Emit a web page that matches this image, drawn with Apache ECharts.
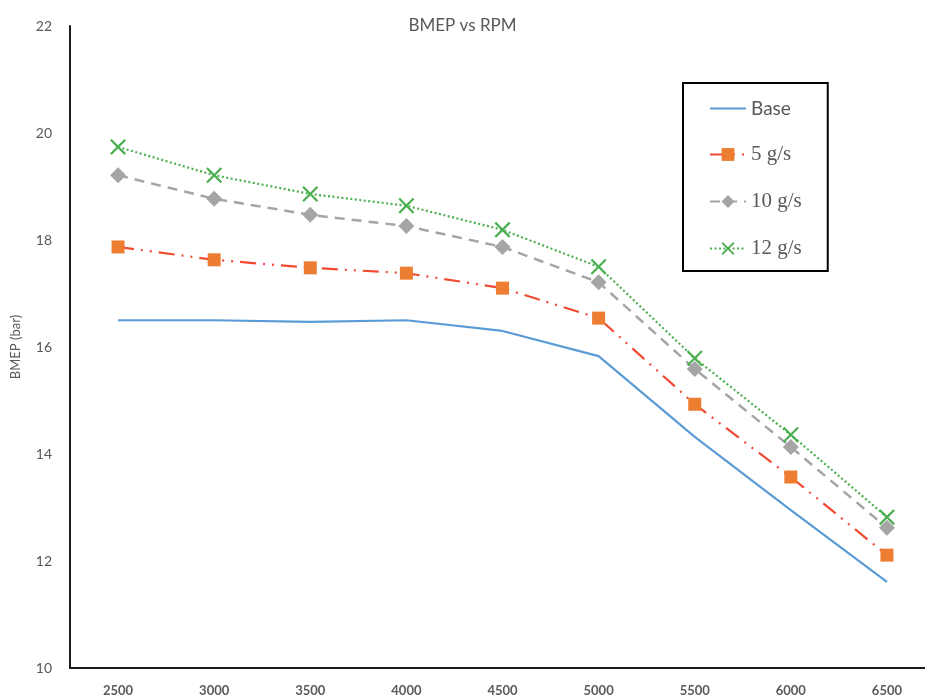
<!DOCTYPE html>
<html lang="en">
<head>
    <meta charset="UTF-8">
    <title>BMEP vs RPM</title>
    <script src="https://cdn.jsdelivr.net/npm/echarts@6/dist/echarts.min.js"></script>
    <style>
        html, body { margin: 0; padding: 0; background: #fff; }
        #linecharts { width: 925px; height: 700px; }
    </style>
</head>
<body>
    <div id="linecharts"></div>
</body>
<script type="text/javascript">
    // 转速 (RPM)
    var rpm = ['2500', '3000', '3500', '4000', '4500', '5000', '5500', '6000', '6500'];
    // BMEP (bar)
    var base = [16.50, 16.50, 16.47, 16.50, 16.30, 15.83, 14.32, 12.95, 11.61];
    var g5 = [17.87, 17.63, 17.48, 17.38, 17.10, 16.54, 14.93, 13.57, 12.11];
    var g10 = [19.21, 18.77, 18.47, 18.26, 17.87, 17.21, 15.59, 14.13, 12.62];
    var g12 = [19.74, 19.21, 18.86, 18.64, 18.19, 17.50, 15.79, 14.36, 12.82];
    var yTicks = [10, 12, 14, 16, 18, 20, 22];

    var crossPath = 'path://M0,1 L1,0 L5,4 L9,0 L10,1 L6,5 L10,9 L9,10 L5,6 L1,10 L0,9 L4,5 Z';
    var labelColor = '#595959';

    var linecharts = echarts.init(document.getElementById('linecharts'));
    var option = {
        animation: false,
        backgroundColor: '#fff',
        title: {
            text: 'BMEP vs RPM',
            left: 'center',
            top: 12,
            textStyle: {
                color: labelColor,
                fontFamily: 'Lato',
                fontSize: 17,
                fontWeight: 'normal'
            }
        },
        grid: {
            left: 70,
            width: 865,
            top: 26,
            bottom: 32,
            containLabel: false,
            outerBoundsMode: 'none'
        },
        legend: {
            orient: 'vertical',
            left: 683,
            top: 83,
            padding: [16, 26, 12, 26],
            itemGap: 26,
            itemWidth: 36,
            itemHeight: 16,
            borderColor: '#000',
            borderWidth: 2,
            backgroundColor: '#fff',
            data: [
                { name: 'Base', itemStyle: { opacity: 0 } },
                '5 g/s', '10 g/s', '12 g/s'
            ],
            formatter: function (name) {
                return name === 'Base' ? '{a|' + name + '}' : '{b|' + name + '}';
            },
            textStyle: {
                color: labelColor,
                fontSize: 18,
                rich: {
                    a: { fontFamily: 'Lato', fontSize: 19, color: labelColor },
                    b: { fontFamily: 'Liberation Serif', fontSize: 21, color: labelColor }
                }
            }
        },
        xAxis: {
            type: 'category',
            data: rpm,
            boundaryGap: true,
            axisLine: { lineStyle: { color: '#1a1a1a', width: 2 } },
            axisTick: { show: false },
            axisLabel: {
                color: labelColor,
                fontFamily: 'Lato',
                fontSize: 13,
                fontWeight: 'bold',
                margin: 16
            },
            splitLine: { show: false }
        },
        yAxis: {
            type: 'value',
            min: yTicks[0],
            max: yTicks[yTicks.length - 1],
            interval: 2,
            name: 'BMEP (bar)',
            nameLocation: 'middle',
            nameGap: 48,
            nameTextStyle: { color: labelColor, fontFamily: 'Lato', fontSize: 13 },
            axisLine: { show: true, lineStyle: { color: '#1a1a1a', width: 2 } },
            axisTick: { show: false },
            axisLabel: { color: labelColor, fontFamily: 'Lato', fontSize: 14, margin: 18 },
            splitLine: { show: false }
        },
        series: [
            {
                name: 'Base',
                type: 'line',
                data: base,
                symbol: 'none',
                lineStyle: { color: '#5B9BD5', width: 2.2 },
                itemStyle: { color: '#5B9BD5' },
                z: 2
            },
            {
                name: '5 g/s',
                type: 'line',
                data: g5,
                symbol: 'rect',
                symbolSize: 13,
                lineStyle: { color: '#F04A33', width: 2.2, type: [16, 7, 2, 7, 2, 7] },
                itemStyle: { color: '#ED7D31', borderWidth: 0 },
                z: 3
            },
            {
                name: '10 g/s',
                type: 'line',
                data: g10,
                symbol: 'diamond',
                symbolSize: 16,
                lineStyle: { color: '#A5A5A5', width: 2.5, type: [10, 7] },
                itemStyle: { color: '#A5A5A5', borderWidth: 0 },
                z: 4
            },
            {
                name: '12 g/s',
                type: 'line',
                data: g12,
                symbol: crossPath,
                symbolSize: 16,
                lineStyle: { color: '#4CAF50', width: 2.2, type: [2, 2.5] },
                itemStyle: { color: '#4CAF50', borderWidth: 0 },
                z: 5
            }
        ]
    };
    linecharts.setOption(option);
    window.addEventListener('resize', function () {
        linecharts.resize();
    });
</script>
</html>
